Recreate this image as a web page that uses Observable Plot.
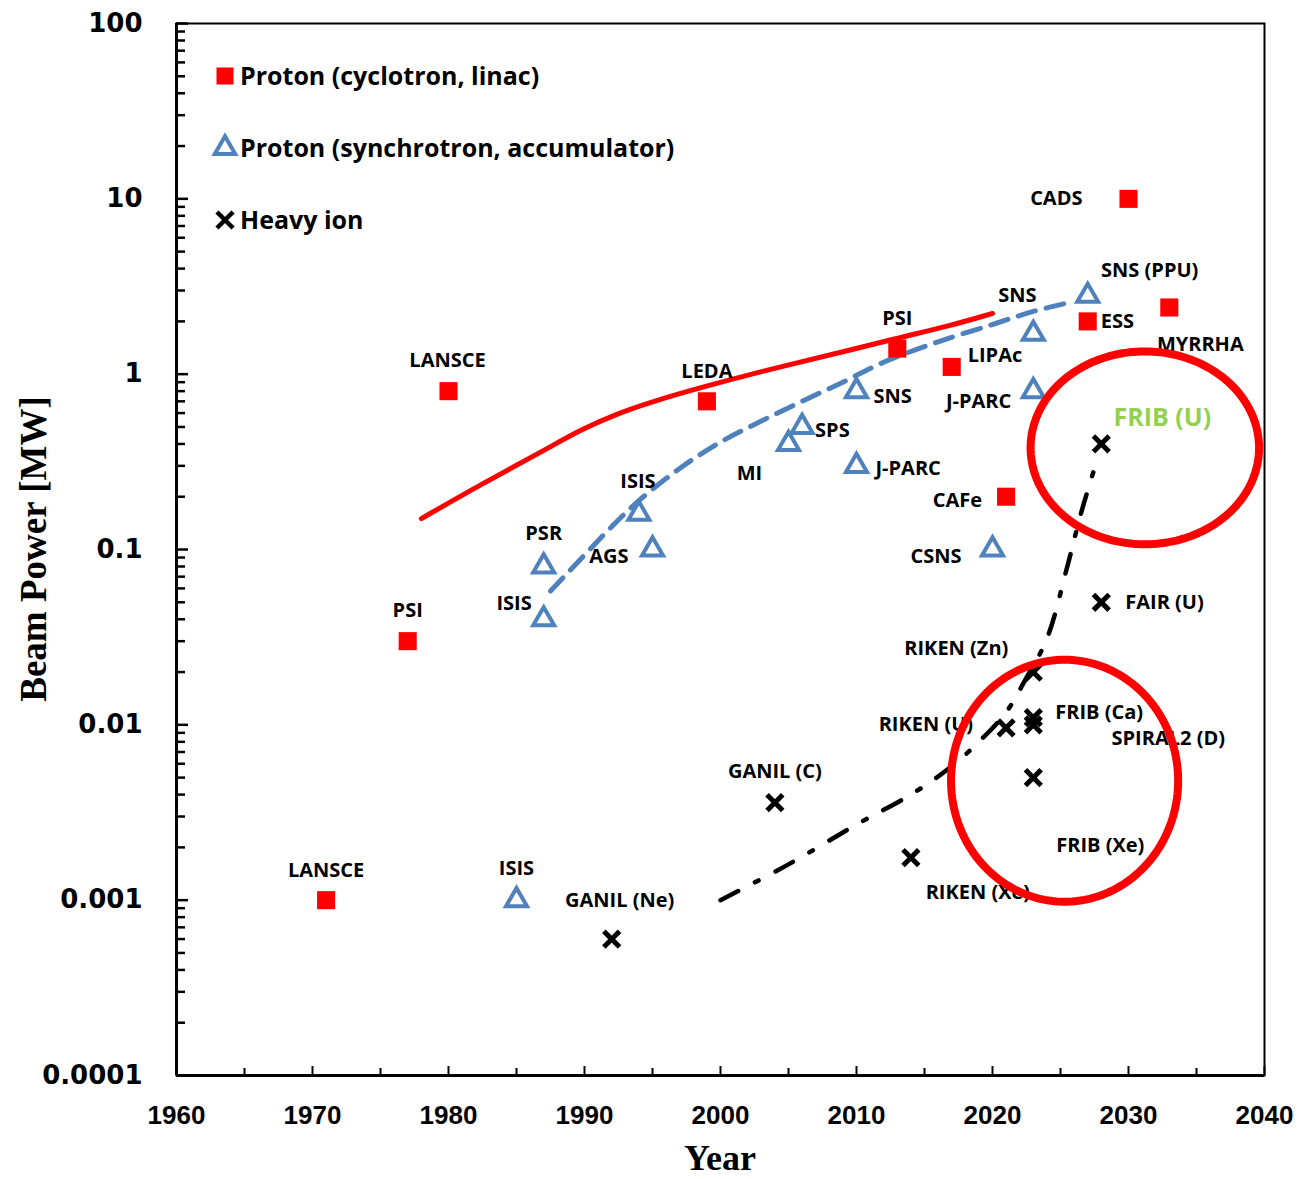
<!DOCTYPE html>
<html>
<head>
<meta charset="utf-8">
<script src="https://cdn.jsdelivr.net/npm/d3@7"></script>
<script src="https://cdn.jsdelivr.net/npm/@observablehq/plot@0.6"></script>
<style>
  body { margin: 0; background: #fff; }
  #chart { position: relative; width: 1301px; height: 1179px; }
</style>
</head>
<body>
<div id="chart"></div>
<script>
// ---------------- DATA ----------------
// Proton (cyclotron, linac)
const linacNames = ["LANSCE", "PSI", "LANSCE", "LEDA", "PSI", "LIPAc", "CAFe", "ESS", "CADS", "MYRRHA"];
const linacYears = [1971, 1977, 1980, 1999, 2013, 2017, 2021, 2027, 2030, 2033];
const linacMW    = [0.001, 0.03, 0.8, 0.7, 1.4, 1.1, 0.2, 2, 10, 2.4];

// Proton (synchrotron, accumulator)
const synchNames = ["ISIS", "ISIS", "PSR", "ISIS", "AGS", "MI", "SPS", "SNS", "J-PARC", "CSNS", "J-PARC", "SNS", "SNS (PPU)"];
const synchYears = [1985, 1987, 1987, 1994, 1995, 2005, 2006, 2010, 2010, 2020, 2023, 2023, 2027];
const synchMW    = [0.001, 0.04, 0.08, 0.16, 0.1, 0.4, 0.5, 0.8, 0.3, 0.1, 0.8, 1.7, 2.8];

// Heavy ion
const ionNames = ["GANIL (Ne)", "GANIL (C)", "RIKEN (Xe)", "RIKEN (U)", "RIKEN (Zn)", "FRIB (Ca)", "SPIRAL2 (D)", "FRIB (Xe)", "FAIR (U)", "FRIB (U)"];
const ionYears = [1992, 2004, 2014, 2021, 2023, 2023, 2023, 2023, 2028, 2028];
const ionMW    = [0.0006, 0.0036, 0.00175, 0.0096, 0.02, 0.011, 0.01, 0.005, 0.05, 0.4];

// Trend curves
const linacTrendYears = [1978, 1982.5, 1987, 1989.7, 1992.6, 1995, 1998.5, 2004.4, 2010, 2013.2, 2016.9, 2020];
const linacTrendMW    = [0.15, 0.238, 0.366, 0.483, 0.604, 0.698, 0.839, 1.105, 1.40, 1.62, 1.89, 2.22];
const synchTrendYears = [1987.5, 1990, 1992, 1994, 1997, 2000, 2003, 2006, 2009, 2012, 2016, 2020, 2023, 2026];
const synchTrendMW    = [0.058, 0.093, 0.135, 0.19, 0.29, 0.41, 0.54, 0.70, 0.90, 1.17, 1.53, 1.92, 2.28, 2.6];
const ionTrendYears   = [2000, 2005, 2010, 2014, 2017, 2019, 2021, 2022.5, 2024, 2025.5, 2026.5, 2027.5];
const ionTrendMW      = [0.001, 0.0016, 0.0027, 0.004, 0.0058, 0.008, 0.0118, 0.0186, 0.031, 0.08, 0.16, 0.29];

// Axis ticks
const xLabelTicks = [1960, 1970, 1980, 1990, 2000, 2010, 2020, 2030, 2040];
const xMinorTicks = [1965, 1975, 1985, 1995, 2005, 2015, 2025, 2035];
const yMajorTicks = [0.0001, 0.001, 0.01, 0.1, 1, 10, 100];
const yTickLabels = ["0.0001", "0.001", "0.01", "0.1", "1", "10", "100"];
const yMinorTicks = [1e-4, 1e-3, 1e-2, 1e-1, 1, 10].flatMap(d => [2,3,4,5,6,7,8,9].map(m => +(d * m).toPrecision(3)));

const legendLabels = ["Proton (cyclotron, linac)", "Proton (synchrotron, accumulator)", "Heavy ion"];
const xTitle = "Year";
const yTitle = "Beam Power [MW]";

// Highlight ellipses (annotation): centre year, centre MW, half-width in years, half-height in decades
const ellipseYears = [2031.2, 2025.3];
const ellipseMW = [0.38, 0.0048];
const ellipseHalfYears = [8.4, 8.35];
const ellipseHalfDecades = [0.55, 0.69];

// ---------------- LABEL PLACEMENT (offsets in px, anchor) ----------------
const linacPlace = [[0,-30,"middle"],[0,-31,"middle"],[-1,-31,"middle"],[0,-30,"middle"],[0,-30,"middle"],
  [16,-11,"start"],[-24,4,"end"],[13,0,"start"],[-46,0,"end"],[31,37,"middle"]];
const synchPlace = [[0,-32,"middle"],[-12,-16,"end"],[0,-33,"middle"],[-1,-32,"middle"],[-24,7,"end"],
  [-39,30,"middle"],[13,4,"start"],[17,5,"start"],[19,3,"start"],[-31,7,"end"],[-22,10,"end"],
  [-16,-38,"middle"],[62,-25,"middle"]];
const ionPlace = [[8,-38,"middle"],[0,-31,"middle"],[67,35,"middle"],[-33,-3,"end"],[-77,-23,"middle"],
  [22,-5,"start"],[135,14,"middle"],[67,68,"middle"],[24,0,"start"],[61,-26,"middle"]];

// ---------------- BUILD ----------------
const rows = (names, years, mw) => names.map((n, i) => ({name: n, year: years[i], mw: mw[i]}));
const linac = rows(linacNames, linacYears, linacMW);
const synch = rows(synchNames, synchYears, synchMW);
const ion = rows(ionNames, ionYears, ionMW);
const trend = (ys, vs) => ys.map((y, i) => ({year: y, mw: vs[i]}));

const RED = "#ff0000", BLUE = "#4f81bd", GREEN = "#92d050";
const LABEL_FONT = "'Open Sans', Lato, sans-serif";

const ellipsePts = ellipseYears.flatMap((cy, k) =>
  d3.range(0, 361, 2).map(a => {
    const t = a * Math.PI / 180;
    return {k, year: cy + ellipseHalfYears[k] * Math.cos(t),
            mw: Math.pow(10, Math.log10(ellipseMW[k]) + ellipseHalfDecades[k] * Math.sin(t))};
  }));

const labelMarks = (data, place, opts = {}) => data.map((d, i) => Plot.text([d], {
  x: "year", y: "mw", text: "name",
  dx: place[i][0], dy: place[i][1], textAnchor: place[i][2],
  fontSize: 20, fontWeight: "bold", fontFamily: LABEL_FONT, fill: "black",
  ...(opts[i] || {})
}));

const yLabelMap = new Map(yMajorTicks.map((d, i) => [d, yTickLabels[i]]));

const plot = Plot.plot({
  width: 1301, height: 1179,
  marginTop: 23, marginRight: 37, marginBottom: 104, marginLeft: 176,
  x: {domain: [1960, 2040], axis: null},
  y: {type: "log", domain: [1e-4, 100], axis: null},
  style: {background: "white", color: "black"},
  marks: [
    // axes
    Plot.axisY({ticks: yMajorTicks, anchor: "left", tickSize: 0, tickPadding: 34,
      tickFormat: d => yLabelMap.get(d), fontSize: 26, fontWeight: "bold",
      fontFamily: "'DejaVu Sans', Verdana, sans-serif", label: null}),
    Plot.axisY({ticks: yMajorTicks, anchor: "left", tickSize: -12, strokeWidth: 2.5, tickFormat: () => "", label: null}),
    Plot.axisY({ticks: yMinorTicks, anchor: "left", tickSize: -9, strokeWidth: 2.5, tickFormat: () => "", label: null}),
    Plot.axisX({ticks: xLabelTicks, anchor: "bottom", tickSize: 0, tickPadding: 30,
      fontSize: 26, fontWeight: "bold", fontFamily: "'Liberation Sans', Arial, sans-serif",
      tickFormat: d => String(d), label: null}),
    Plot.axisX({ticks: xLabelTicks, anchor: "bottom", tickSize: -9, strokeWidth: 2, tickFormat: () => "", label: null}),
    Plot.axisX({ticks: xMinorTicks, anchor: "bottom", tickSize: -7, strokeWidth: 2, tickFormat: () => "", label: null}),
    Plot.frame({stroke: "black", strokeWidth: 2}),
    Plot.ruleX([1960], {stroke: "black", strokeWidth: 3}),
    Plot.ruleY([1e-4], {stroke: "black", strokeWidth: 3}),

    // trend curves
    Plot.line(trend(linacTrendYears, linacTrendMW), {x: "year", y: "mw", stroke: RED, strokeWidth: 5, curve: "basis"}),
    Plot.line(trend(synchTrendYears, synchTrendMW), {x: "year", y: "mw", stroke: BLUE, strokeWidth: 5,
      strokeDasharray: "18,11", curve: "catmull-rom"}),
    Plot.line(trend(ionTrendYears, ionTrendMW), {x: "year", y: "mw", stroke: "black", strokeWidth: 4.5,
      strokeDasharray: "20,19,4,19", curve: "catmull-rom"}),

    // markers
    Plot.dot(linac, {x: "year", y: "mw", symbol: "square", r: 10.2, fill: RED, stroke: "none"}),
    Plot.dot(synch, {x: "year", y: "mw", symbol: "triangle", r: 7.8, fill: "none", stroke: BLUE, strokeWidth: 4}),
    Plot.dot(ion, {x: "year", y: "mw", symbol: "times", r: 7.2, stroke: "black", strokeWidth: 5}),

    // labels
    ...labelMarks(linac, linacPlace),
    ...labelMarks(synch, synchPlace),
    ...labelMarks(ion, ionPlace, {9: {fill: GREEN, fontSize: 25}}),

    // highlight ellipses
    Plot.line(ellipsePts, {x: "year", y: "mw", z: "k", stroke: RED, strokeWidth: 8, curve: "linear"})
  ]
});

document.getElementById("chart").appendChild(plot);

// ---------------- TITLES & LEGEND ----------------
const svg = d3.select(plot);
const xs = plot.scale("x"), ys = plot.scale("y");
const xMid = (xs.range[0] + xs.range[1]) / 2;
const yMid = (ys.range[0] + ys.range[1]) / 2;

svg.append("text").text(xTitle)
  .attr("x", xMid).attr("y", 1170).attr("text-anchor", "middle")
  .attr("font-family", "'Liberation Serif', 'Times New Roman', serif")
  .attr("font-weight", "bold").attr("font-size", 36).attr("fill", "black");

svg.append("text").text(yTitle)
  .attr("transform", `translate(46,${yMid}) rotate(-90)`)
  .attr("text-anchor", "middle")
  .attr("font-family", "'Liberation Serif', 'Times New Roman', serif")
  .attr("font-weight", "bold").attr("font-size", 37).attr("fill", "black");

const legend = svg.append("g");
const legendSymbols = [
  {sym: d3.symbolSquare, size: 17 * 17, fill: RED, stroke: "none", sw: 0},
  {sym: d3.symbolTriangle, size: 180, fill: "none", stroke: BLUE, sw: 4},
  {sym: d3.symbolTimes, size: 170, fill: "none", stroke: "black", sw: 4.5}
];
legendLabels.forEach((lab, i) => {
  const cy = 76 + i * 72;
  const s = legendSymbols[i];
  legend.append("path")
    .attr("d", d3.symbol(s.sym, s.size)())
    .attr("transform", `translate(225,${cy})`)
    .attr("fill", s.fill).attr("stroke", s.stroke).attr("stroke-width", s.sw);
  legend.append("text").text(lab)
    .attr("x", 240).attr("y", cy).attr("dy", "0.35em")
    .attr("text-anchor", "start")
    .attr("font-family", LABEL_FONT).attr("font-weight", "bold")
    .attr("font-size", 25).attr("fill", "black");
});
</script>
</body>
</html>
